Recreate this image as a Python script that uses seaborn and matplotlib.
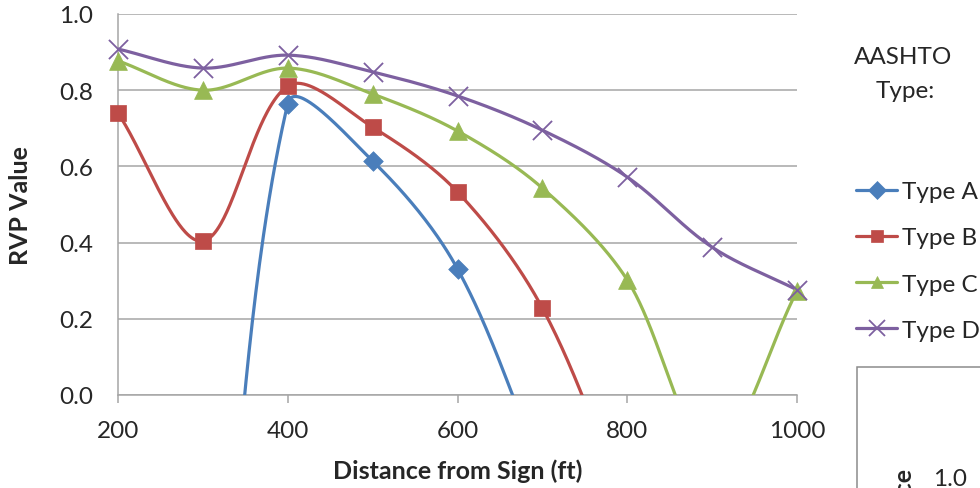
import numpy as np
import pandas as pd
import matplotlib
matplotlib.use("Agg")
import matplotlib.pyplot as plt
import seaborn as sns
from matplotlib.lines import Line2D
from matplotlib.patches import Rectangle

nan = np.nan
# ---------------- data ----------------
distance = [200, 300, 400, 500, 600, 700, 800, 900, 1000]
type_a = [nan, -1.3, 0.765, 0.614, 0.331, -0.2, nan, nan, nan]
type_b = [0.740, 0.404, 0.811, 0.703, 0.533, 0.228, -0.3, nan, nan]
type_c = [0.877, 0.800, 0.858, 0.790, 0.693, 0.543, 0.302, -0.15, 0.273]
type_d = [0.908, 0.858, 0.892, 0.848, 0.785, 0.695, 0.572, 0.388, 0.276]
series_names = ["Type A", "Type B", "Type C", "Type D"]
series_values = [type_a, type_b, type_c, type_d]
x_ticks = [200, 400, 600, 800, 1000]
y_ticks = [0.0, 0.2, 0.4, 0.6, 0.8, 1.0]

colors = ["#4A7EBB", "#BE4B48", "#98B954", "#7D60A0"]
markers = ["D", "s", "^", "x"]
marker_sizes = [100, 140, 165, 190]

sns.set_style("white")
plt.rcParams["font.family"] = ["Lato", "DejaVu Sans"]

fig = plt.figure(figsize=(9.8, 4.89), dpi=100)
ax = fig.add_axes([118 / 980, 1 - 396 / 489, 679 / 980, 381 / 489])
ax.set_xlim(200, 1000)
ax.set_ylim(0, 1.0)


def excel_smooth(ax, x, y, n=80):
    """Bezier smoothing (Excel-like) computed in display space."""
    x = np.asarray(x, float)
    y = np.asarray(y, float)
    m = ~np.isnan(y)
    P = ax.transData.transform(np.column_stack([x[m], y[m]]))
    k = len(P)
    out = [P[0]]
    t = np.linspace(0, 1, n)[1:, None]
    for i in range(k - 1):
        p0 = P[i - 1] if i > 0 else P[i]
        p1, p2 = P[i], P[i + 1]
        p3 = P[i + 2] if i + 2 < k else P[i + 1]
        d01 = np.hypot(*(p1 - p0))
        d12 = np.hypot(*(p2 - p1))
        d23 = np.hypot(*(p3 - p2))
        c1 = p1 + (p2 - p0) * d12 / (d01 + d12) / 3
        c2 = p2 - (p3 - p1) * d12 / (d12 + d23) / 3
        B = (1 - t) ** 3 * p1 + 3 * (1 - t) ** 2 * t * c1 + 3 * (1 - t) * t ** 2 * c2 + t ** 3 * p2
        out.extend(B)
    D = ax.transData.inverted().transform(np.array(out))
    return D[:, 0], D[:, 1]


curves = []
points = []
for name, vals in zip(series_names, series_values):
    cx, cy = excel_smooth(ax, distance, vals)
    curves.append(pd.DataFrame({"Distance": cx, "RVP": cy, "Type": name}))
    points.append(pd.DataFrame({"Distance": distance, "RVP": vals, "Type": name}))
curve_df = pd.concat(curves, ignore_index=True)
point_df = pd.concat(points, ignore_index=True).dropna()
point_df = point_df[(point_df["RVP"] >= 0) & (point_df["RVP"] <= 1)]

palette = dict(zip(series_names, colors))
sns.lineplot(data=curve_df, x="Distance", y="RVP", hue="Type", palette=palette,
             sort=False, estimator=None, lw=2.3, legend=False, ax=ax, zorder=3)
for name, col, mk, ms in zip(series_names, colors, markers, marker_sizes):
    sub = point_df[point_df["Type"] == name]
    if mk == "x":
        sns.scatterplot(data=sub, x="Distance", y="RVP", color=col, marker=mk, s=ms,
                        linewidth=1.3, legend=False, ax=ax, zorder=4, clip_on=False)
    else:
        sns.scatterplot(data=sub, x="Distance", y="RVP", color=col, marker=mk, s=ms,
                        edgecolor=col, linewidth=0.5, legend=False, ax=ax, zorder=4,
                        clip_on=False)

ax.set_xlim(200, 1000)
ax.set_ylim(0, 1.0)
ax.set_xticks(x_ticks)
ax.set_yticks(y_ticks)
ax.set_yticklabels([f"{v:.1f}" for v in y_ticks])
ax.set_xticklabels([str(v) for v in x_ticks])
ax.yaxis.grid(True, color="#A6A6A6", lw=1.1)
ax.xaxis.grid(False)
ax.set_axisbelow(True)
for s in ["top", "right"]:
    ax.spines[s].set_visible(False)
for s in ["left", "bottom"]:
    ax.spines[s].set_color("#A6A6A6")
    ax.spines[s].set_linewidth(1.1)
ax.tick_params(axis="x", direction="out", length=6, width=1.1, color="#A6A6A6",
               labelsize=17.5, pad=12, bottom=True)
ax.tick_params(axis="y", length=0, labelsize=17.5, pad=18)

ax.set_xlabel("Distance from Sign (ft)", fontsize=18, fontweight="bold")
ax.set_ylabel("RVP Value", fontsize=18, fontweight="bold")
ax.xaxis.set_label_coords(0.5, (396 - 471) / 381)
ax.xaxis.label.set_va("center")
ax.yaxis.set_label_coords((21 - 118) / 679, 0.5)
ax.yaxis.label.set_va("center")

# legend
fig.text(903 / 980, 1 - 58 / 489, "AASHTO", ha="center", va="center", fontsize=17.5)
fig.text(905 / 980, 1 - 92 / 489, "Type:", ha="center", va="center", fontsize=17.5)
handles = [Line2D([0], [0], color=c, lw=2.3, marker=m,
                  markersize=(9 if m != "x" else 12), markeredgewidth=(0.5 if m != "x" else 1.3),
                  markerfacecolor=c, markeredgecolor=c)
           for c, m in zip(colors, markers)]
fig.legend(handles, series_names, loc="upper left", bbox_to_anchor=(856 / 980, 1 - 182 / 489),
           frameon=False, fontsize=17.5, handlelength=1.69, handletextpad=0.22,
           labelspacing=1.04, borderpad=0, borderaxespad=0)

# partial neighbouring chart (cropped in reference)
fig.patches.append(Rectangle((857 / 980, -0.2), 0.3, 0.2 + (489 - 368) / 489,
                             transform=fig.transFigure, fill=False,
                             edgecolor="#8C8C8C", lw=1.1))
fig.text(903 / 980, 1 - 467 / 489, "Performance", rotation=90, ha="center", va="top",
         fontsize=18, fontweight="bold")
fig.text(950 / 980, 1 - 480 / 489, "1.0", ha="center", va="center", fontsize=17.5)

fig.savefig("out.png", dpi=100)
